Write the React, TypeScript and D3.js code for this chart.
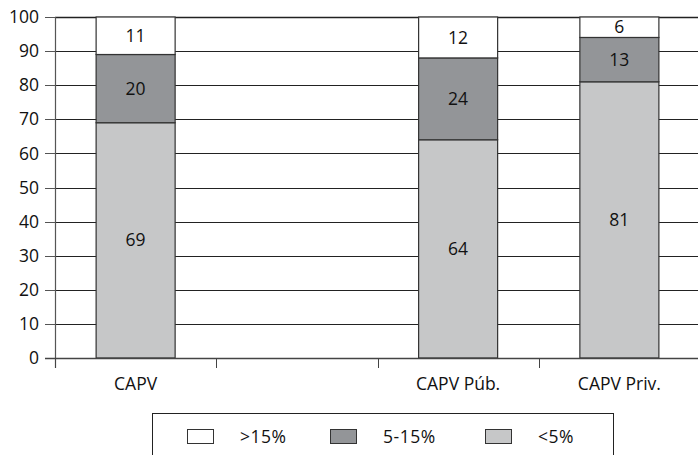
import { useEffect, useRef } from 'react'
import * as d3 from 'd3'

const categories = ['CAPV', '', 'CAPV Púb.', 'CAPV Priv.']
const lowValues = [69, null, 64, 81]
const midValues = [20, null, 24, 13]
const highValues = [11, null, 12, 6]
const yTicks = [0, 10, 20, 30, 40, 50, 60, 70, 80, 90, 100]

const seriesNames = ['<5%', '5-15%', '>15%']
const seriesColors = ['#c6c7c8', '#939598', '#ffffff']
const legendOrder = [2, 1, 0]

export default function App() {
    const svgRef = useRef<SVGSVGElement>(null)

    useEffect(() => {
        if (!svgRef.current) return
        const width = 698
        const height = 455
        const svg = d3.select(svgRef.current)
        svg.selectAll('*').remove()

        const left = 55
        const right = 700
        const top = 17
        const bottom = 358
        const font = '"Open Sans", "DejaVu Sans", sans-serif'
        const fs = '17.5px'

        const x = d3.scaleBand<string>()
            .domain(categories.map((c, i) => String(i)))
            .range([left, right])
            .paddingInner(0)
        const y = d3.scaleLinear().domain([0, 100]).range([bottom, top])

        // gridlines
        svg.append('g')
            .selectAll('line')
            .data(yTicks.filter(t => t > 0))
            .enter()
            .append('line')
            .attr('x1', left)
            .attr('x2', width)
            .attr('y1', d => Math.round(y(d)) + 0.5)
            .attr('y2', d => Math.round(y(d)) + 0.5)
            .attr('stroke', '#222')
            .attr('stroke-width', d => d === 100 ? 1.6 : 1.1)

        // stacked bars
        const rows = categories.map((c, i) => ({
            key: String(i),
            low: lowValues[i] ?? 0,
            mid: midValues[i] ?? 0,
            high: highValues[i] ?? 0,
            empty: lowValues[i] == null
        }))
        const stack = d3.stack<typeof rows[number]>().keys(['low', 'mid', 'high'])
        const layers = stack(rows.filter(r => !r.empty) as any)
        const barW = x.bandwidth() * 0.49

        layers.forEach((layer, li) => {
            const g = svg.append('g')
            layer.forEach(seg => {
                const key = (seg.data as any).key
                const cx = (x(key) as number) + x.bandwidth() / 2
                const y0 = y(seg[0])
                const y1 = y(seg[1])
                g.append('rect')
                    .attr('x', cx - barW / 2)
                    .attr('y', y1)
                    .attr('width', barW)
                    .attr('height', y0 - y1)
                    .attr('fill', seriesColors[li])
                    .attr('stroke', '#333')
                    .attr('stroke-width', 1.2)
                const v = seg[1] - seg[0]
                g.append('text')
                    .attr('x', cx)
                    .attr('y', (y0 + y1) / 2)
                    .attr('dy', '0.35em')
                    .attr('text-anchor', 'middle')
                    .style('font-family', font)
                    .style('font-size', fs)
                    .style('fill', '#111')
                    .text(v)
            })
        })

        // y axis
        svg.append('line')
            .attr('x1', left + 0.5).attr('x2', left + 0.5)
            .attr('y1', top).attr('y2', bottom + 10)
            .attr('stroke', '#555').attr('stroke-width', 1.2)
        const yAxis = svg.append('g')
        yAxis.selectAll('line')
            .data(yTicks)
            .enter()
            .append('line')
            .attr('x1', left - 10)
            .attr('x2', left)
            .attr('y1', d => Math.round(y(d)) + 0.5)
            .attr('y2', d => Math.round(y(d)) + 0.5)
            .attr('stroke', '#555')
        yAxis.selectAll('text')
            .data(yTicks)
            .enter()
            .append('text')
            .attr('x', left - 16)
            .attr('y', d => y(d))
            .attr('dy', '0.35em')
            .attr('text-anchor', 'end')
            .style('font-family', font)
            .style('font-size', fs)
            .style('fill', '#111')
            .text(d => d)

        // x axis
        svg.append('line')
            .attr('x1', left - 10).attr('x2', width)
            .attr('y1', bottom + 0.5).attr('y2', bottom + 0.5)
            .attr('stroke', '#444').attr('stroke-width', 1.6)
        const xAxis = svg.append('g')
        xAxis.selectAll('line')
            .data(categories.map((c, i) => i).concat([categories.length]))
            .enter()
            .append('line')
            .attr('x1', d => Math.round(left + d * x.bandwidth()) + 0.5)
            .attr('x2', d => Math.round(left + d * x.bandwidth()) + 0.5)
            .attr('y1', bottom)
            .attr('y2', bottom + 10)
            .attr('stroke', '#444')
        xAxis.selectAll('text')
            .data(categories)
            .enter()
            .append('text')
            .attr('x', (d, i) => (x(String(i)) as number) + x.bandwidth() / 2)
            .attr('y', bottom + 26)
            .attr('dy', '0.35em')
            .attr('text-anchor', 'middle')
            .style('font-family', font)
            .style('font-size', fs)
            .style('fill', '#111')
            .text(d => d)

        // legend
        const legend = svg.append('g')
        legend.append('rect')
            .attr('x', 152.5)
            .attr('y', 413.5)
            .attr('width', 461)
            .attr('height', 60)
            .attr('fill', 'white')
            .attr('stroke', '#222')
        const itemX = [187, 330, 485]
        const items = legend.selectAll('.legend-item')
            .data(legendOrder)
            .enter()
            .append('g')
            .attr('class', 'legend-item')
            .attr('transform', (d, i) => `translate(${itemX[i]}, 429)`)
        items.append('rect')
            .attr('x', 0.5)
            .attr('y', 0.5)
            .attr('width', 26)
            .attr('height', 14)
            .attr('fill', d => seriesColors[d])
            .attr('stroke', '#333')
        items.append('text')
            .attr('x', 53)
            .attr('y', 7.5)
            .attr('dy', '0.35em')
            .style('font-family', font)
            .style('font-size', fs)
            .style('letter-spacing', '0.5px')
            .style('fill', '#111')
            .text(d => seriesNames[d])

        svg.attr('width', width).attr('height', height)
    }, [])

    return (
        <svg ref={svgRef} style={{ position: 'absolute', left: 0, top: 0 }}></svg>
    )
}
